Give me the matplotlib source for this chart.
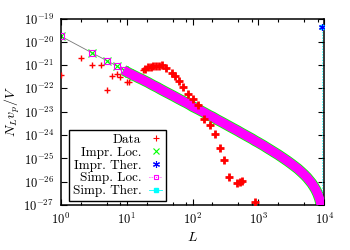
import numpy as np
import matplotlib
matplotlib.use('Agg')
import matplotlib.pyplot as plt
from matplotlib.lines import Line2D
from matplotlib.ticker import LogLocator, FuncFormatter, NullFormatter

plt.rcParams['mathtext.fontset'] = 'cm'

# measured data (red +), log10 of N_L v_p / V
L_data = [1, 2, 3, 4, 5, 6, 7, 8, 10, 11, 18, 19, 21, 23, 25, 28, 31, 35, 40,
          48, 54, 63, 72, 86, 100, 122, 152, 186, 220, 262, 300, 360, 480,
          520, 560, 900]
logy_data = [-21.43, -20.69, -20.98, -20.98, -22.06, -21.47, -21.40, -21.53,
             -21.71, -21.71, -21.20, -21.15, -21.08, -21.06, -21.05, -21.05,
             -21.03, -21.00, -21.12, -21.32, -21.46, -21.67, -21.92, -22.25,
             -22.47, -22.70, -23.30, -23.57, -23.94, -24.54, -25.08, -25.81,
             -26.06, -26.00, -25.95, -26.88]

# local predictions (band), odd L
L_loc = [1, 3, 5, 7, 9, 11, 13, 15, 17, 19, 21, 25, 29, 33, 39, 45, 51, 61, 71,
         81, 91, 101, 121, 141, 161, 181, 201, 241, 281, 321, 361, 401, 481,
         561, 641, 721, 801, 901, 1001, 1201, 1401, 1601, 1801, 2001, 2401,
         2801, 3201, 3601, 4001, 4501, 5001, 5501, 6001, 6501, 7001, 7501,
         8001, 8501, 9001, 9501]
logy_loc = [-19.76, -20.48, -20.81, -21.03, -21.22, -21.35, -21.45, -21.54,
            -21.61, -21.68, -21.74, -21.86, -21.95, -22.04, -22.15, -22.24,
            -22.32, -22.44, -22.54, -22.62, -22.70, -22.78, -22.89, -22.99,
            -23.08, -23.16, -23.22, -23.35, -23.45, -23.54, -23.62, -23.69,
            -23.81, -23.92, -24.01, -24.09, -24.16, -24.25, -24.32, -24.45,
            -24.57, -24.67, -24.76, -24.84, -24.99, -25.12, -25.24, -25.35,
            -25.45, -25.58, -25.70, -25.82, -25.95, -26.07, -26.21, -26.35,
            -26.52, -26.72, -26.99, -27.42]

# thermodynamic values, shown at the right edge
L_ther = [9300]
logy_ther = [-19.38]

yd = 10 ** np.array(logy_data)
yl = 10 ** np.array(logy_loc)
yt = 10 ** np.array(logy_ther)

fig = plt.figure(figsize=(3.5, 2.5), dpi=100)
ax = fig.add_axes([0.174, 0.18, 0.752, 0.746])
ax.set_xscale('log')
ax.set_yscale('log')

ax.plot(L_loc[:8], yl[:8], color='#777777', lw=0.6, zorder=1)
# dense markers merge into a band beyond L ~ 10
ax.plot(L_loc[4:], yl[4:], color='#00ff00', lw=7.8, solid_capstyle='butt', zorder=2)
ax.plot(L_loc[4:], yl[4:], color='#ff00ff', lw=6.6, solid_capstyle='butt', zorder=3)
ax.plot(L_loc[:7], yl[:7], ls='none', marker='x', ms=5.6, mew=0.8, color='#00ff00', zorder=2)
ax.plot(L_loc[:7], yl[:7], ls='none', marker='s', ms=4.8, mew=0.8, mfc='none', mec='#ff00ff', zorder=3)
ax.plot([L_ther[0], L_ther[0]], [1e-27, yt[0]], color='#00ffff', lw=0.5, ls=(0, (2, 2)), zorder=2)
ax.plot(L_ther, yt, ls='none', marker='s', ms=3.5, color='#00ffff', zorder=4)
ax.plot(L_ther, yt, ls='none', marker=(6, 2, 0), ms=5, mew=0.8, color='#0000ff', zorder=5)
ax.plot(L_data[:11], yd[:11], ls='none', marker='+', ms=5, mew=1.0, color='#ff0000', zorder=6)
ax.plot(L_data[11:], yd[11:], ls='none', marker='+', ms=5.5, mew=2.0, color='#ff0000', zorder=6)

ax.set_xlim(1, 1e4)
ax.set_ylim(1e-27, 1e-19)

fmt = FuncFormatter(lambda v, p: r'$10^{%d}$' % int(round(np.log10(v))))
ax.xaxis.set_major_locator(LogLocator(base=10, numticks=10))
ax.xaxis.set_minor_locator(LogLocator(base=10, subs=(2, 5, 8), numticks=20))
ax.xaxis.set_minor_formatter(NullFormatter())
ax.xaxis.set_major_formatter(fmt)
ax.yaxis.set_major_locator(LogLocator(base=10, numticks=20))
ax.yaxis.set_minor_locator(LogLocator(base=10, subs=(), numticks=20))
ax.yaxis.set_major_formatter(fmt)
ax.tick_params(which='both', direction='in', top=True, right=True, labelsize=9, pad=5, width=0.8)
ax.tick_params(which='major', length=4)
ax.tick_params(which='minor', length=2)
for s in ax.spines.values():
    s.set_linewidth(1.1)

ax.set_xlabel(r'$L$', fontsize=10, labelpad=2)
ax.set_ylabel(r'$N_L v_p/V$', fontsize=10, labelpad=1)

handles = [
    Line2D([], [], ls='none', marker='+', ms=4, mew=0.8, color='#ff0000'),
    Line2D([], [], ls='none', marker='x', ms=4.5, mew=0.8, color='#00ff00'),
    Line2D([], [], ls='none', marker=(6, 2, 0), ms=5, mew=0.8, color='#0000ff'),
    Line2D([], [], ls=':', lw=0.6, marker='s', ms=3.5, mew=0.8, mfc='none', color='#ff00ff'),
    Line2D([], [], ls='-', lw=0.6, marker='s', ms=3.5, color='#00ffff'),
]
labels = ['Data', 'Impr. Loc.', 'Impr. Ther.', 'Simp. Loc.', 'Simp. Ther.']
leg = ax.legend(handles, labels, loc='lower left', bbox_to_anchor=(0.03, 0.02),
                borderaxespad=0, markerfirst=False, fancybox=False, edgecolor='k',
                framealpha=1, prop={'family': 'cmr10', 'size': 9.5}, handlelength=1.0,
                handletextpad=0.6, labelspacing=0.05, borderpad=0.3)
leg.get_frame().set_linewidth(1.0)
for col in leg._legend_handle_box.get_children():
    col.align = 'right'

fig.savefig('out.png', dpi=100)
